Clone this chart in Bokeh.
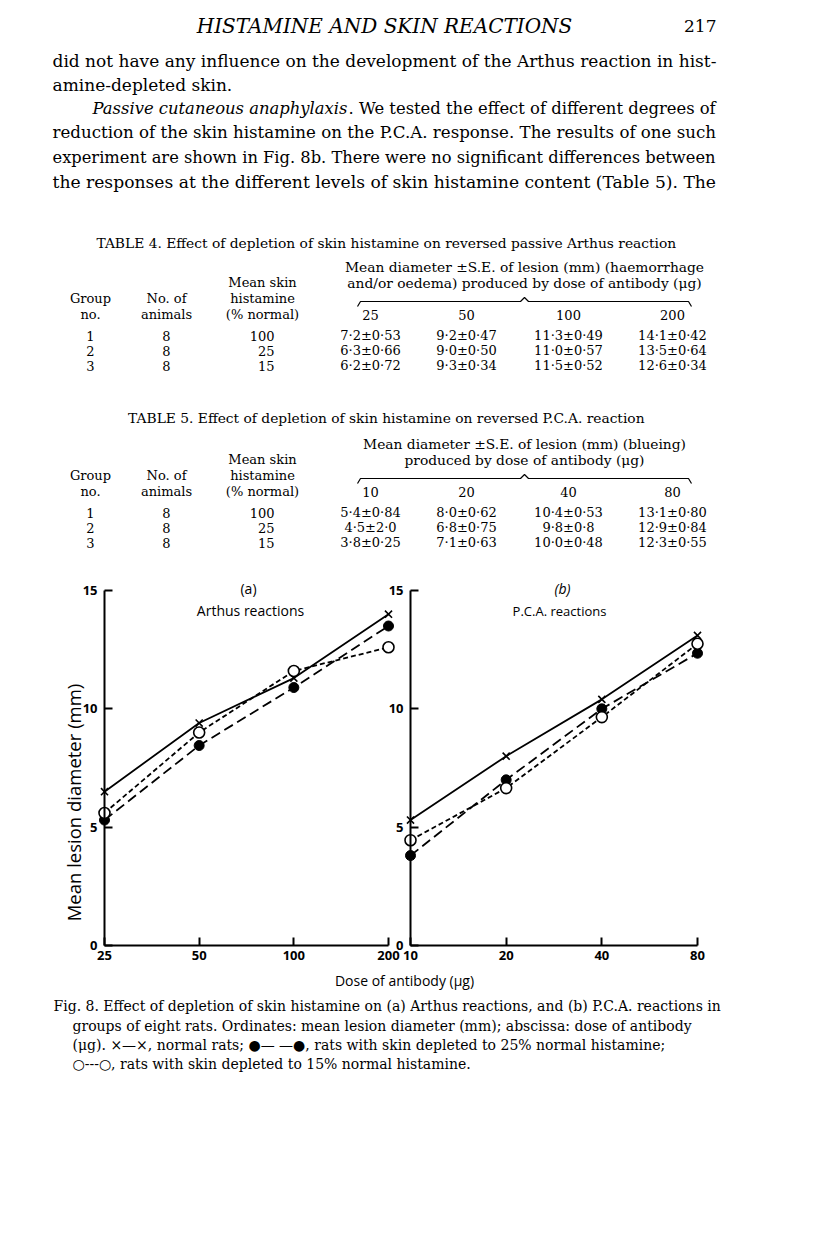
import math
from bokeh.plotting import figure
from bokeh.models import Range1d, LogScale, LogAxis, LinearAxis, FixedTicker, BasicTickFormatter
from bokeh.core.properties import value
from bokeh.embed import file_html
from bokeh.resources import INLINE

# ---------------- data ----------------
arthus_dose = [25, 50, 100, 200]
arthus_normal = [6.5, 9.4, 11.3, 14.0]
arthus_dep25 = [5.3, 8.45, 10.9, 13.5]
arthus_dep15 = [5.6, 9.0, 11.6, 12.6]

pca_dose = [10, 20, 40, 80]
pca_normal = [5.3, 8.0, 10.4, 13.1]
pca_dep25 = [3.8, 7.0, 10.0, 12.35]
pca_dep15 = [4.45, 6.65, 9.65, 12.75]

y_ticks = [0, 5, 10, 15]

# ---------------- table contents ----------------
groups = ["1", "2", "3"]
animals = ["8", "8", "8"]
histamine = ["100", "25", "15"]
table4_doses = ["25", "50", "100", "200"]
table4_rows = [["7·2±0·53", "9·2±0·47", "11·3±0·49", "14·1±0·42"],
               ["6·3±0·66", "9·0±0·50", "11·0±0·57", "13·5±0·64"],
               ["6·2±0·72", "9·3±0·34", "11·5±0·52", "12·6±0·34"]]
table5_doses = ["10", "20", "40", "80"]
table5_rows = [["5·4±0·84", "8·0±0·62", "10·4±0·53", "13·1±0·80"],
               ["4·5±2·0", "6·8±0·75", "9·8±0·8", "12·9±0·84"],
               ["3·8±0·25", "7·1±0·63", "10·0±0·48", "12·3±0·55"]]

body_lines = [
    "did not have any influence on the development of the Arthus reaction in hist-",
    "amine-depleted skin.",
    None,
    "reduction of the skin histamine on the P.C.A. response. The results of one such",
    "experiment are shown in Fig. 8b. There were no significant differences between",
    "the responses at the different levels of skin histamine content (Table 5). The",
]
caption_lines = [
    "Fig. 8.  Effect of depletion of skin histamine on (a) Arthus reactions, and (b) P.C.A. reactions in",
    "groups of eight rats.  Ordinates: mean lesion diameter (mm); abscissa: dose of antibody",
    "(μg).   ×—×, normal rats;  ●— —●, rats with skin depleted to 25% normal histamine;",
    "○---○, rats with skin depleted to 15% normal histamine.",
]

# ---------------- page figure (coordinates = page pixels) ----------------
W, H = 800, 1217
p = figure(width=W, height=H, x_range=Range1d(0, W), y_range=Range1d(H, 0),
           output_backend="svg", toolbar_location=None, min_border=0,
           x_axis_location=None, y_axis_location=None)
p.grid.visible = False
p.outline_line_color = None
p.background_fill_color = "white"
p.border_fill_color = "white"

SERIF = "DejaVu Serif"
SANS = "Open Sans"


def txt(xs, ys, texts, size, align="left", font=SERIF, style="normal", angle=0):
    p.text(x=xs, y=ys, text=texts, text_font=value(font), text_font_size=value(size),
           text_font_style=style, text_align=align, text_baseline="middle",
           text_color="black", angle=angle)


# running head
txt([384], [25], ["HISTAMINE AND SKIN REACTIONS"], "20px", "center", style="italic")
txt([716], [25], ["217"], "17px", "right")

# body text (sizes vary slightly per line to imitate the justified setting)
line_y = [60, 84, 108, 132, 157, 181]
line_size = ["17px", "17px", "16.4px", "16.65px", "16.3px", "17.15px"]
for t, y, s in zip(body_lines, line_y, line_size):
    if t is not None:
        txt([52], [y], [t], s)
txt([92], [line_y[2]], ["Passive cutaneous anaphylaxis"], line_size[2], style="italic")
txt([348], [line_y[2]], [". We tested the effect of different degrees of"], line_size[2])

# tables
col_group, col_anim, col_hist = 90, 166, 274
dose_cols = [370, 466, 568, 672]


def draw_table(title, title_y, head_lines, head_y, doses, rows, row_y):
    txt([388], [title_y], [title], "13.8px", "center")
    txt([524] * len(head_lines), head_y, head_lines, "13.8px", "center")
    hy = head_y[-1]
    txt([262, 262, 262], [hy, hy + 16, hy + 32], ["Mean skin", "histamine", "(% normal)"], "13px", "center")
    txt([col_group, col_group], [hy + 16, hy + 32], ["Group", "no."], "13px", "center")
    txt([col_anim, col_anim], [hy + 16, hy + 32], ["No. of", "animals"], "13px", "center")
    txt(dose_cols, [hy + 32] * 4, doses, "13px", "center")
    # brace over the dose columns
    by_ = hy + 19
    p.line([357, 360, 520, 524, 528, 688, 691], [by_ + 5, by_, by_, by_ - 4, by_, by_, by_ + 5],
           line_color="black", line_width=1.2)
    for r, y in enumerate(row_y):
        txt([col_group], [y], [groups[r]], "13px", "center")
        txt([col_anim], [y], [animals[r]], "13px", "center")
        txt([col_hist], [y], [histamine[r]], "13px", "right")
        txt(dose_cols, [y] * 4, rows[r], "13px", "center")


draw_table("TABLE 4.  Effect of depletion of skin histamine on reversed passive Arthus reaction", 242,
           ["Mean diameter ±S.E. of lesion (mm) (haemorrhage",
            "and/or oedema) produced by dose of antibody (μg)"], [266, 282],
           table4_doses, table4_rows, [335, 350, 365])
draw_table("TABLE 5.  Effect of depletion of skin histamine on reversed P.C.A. reaction", 417,
           ["Mean diameter ±S.E. of lesion (mm) (blueing)",
            "produced by dose of antibody (μg)"], [443, 459],
           table5_doses, table5_rows, [512, 527, 542])

# caption
cap_y = [1005, 1025, 1044, 1063]
txt([53, 72, 72, 72], cap_y, caption_lines, "14px")

# ---------------- chart panels via extra ranges ----------------
def log_range(v0, px0, v1, px1):
    ppd = (px1 - px0) / math.log10(v1 / v0)
    start = v0 * 10 ** (-px0 / ppd)
    end = v1 * 10 ** ((W - px1) / ppd)
    return Range1d(start, end)


unit = (945 - 590) / 15.0
p.extra_y_ranges = {"v": Range1d(-(H - 945) / unit, 15 + 590 / unit)}
p.extra_x_ranges = {"a": log_range(25, 104, 200, 388), "b": log_range(10, 410, 80, 697)}
p.extra_x_scales = {"a": LogScale(), "b": LogScale()}


def style_axis(ax):
    ax.axis_line_color = "black"
    ax.axis_line_width = 2
    ax.major_tick_line_color = "black"
    ax.major_tick_line_width = 2
    ax.major_tick_in = 8
    ax.major_tick_out = 0
    ax.minor_tick_line_color = None
    ax.major_label_text_font = SANS
    ax.major_label_text_font_style = "bold"
    ax.major_label_text_font_size = "13px"
    ax.major_label_text_color = "black"


def panel(rng, doses, normal, dep25, dep15):
    xa = LogAxis(x_range_name=rng, y_range_name="v", fixed_location=0,
                 bounds=(doses[0], doses[-1]), ticker=FixedTicker(ticks=doses, minor_ticks=[]),
                 formatter=BasicTickFormatter())
    xa.major_label_overrides = {d: str(d) for d in doses}
    style_axis(xa)
    xa.major_label_standoff = 5
    p.add_layout(xa, "below")
    ya = LinearAxis(x_range_name=rng, y_range_name="v", fixed_location=doses[0],
                    bounds=(0, 15), ticker=FixedTicker(ticks=y_ticks, minor_ticks=[]))
    style_axis(ya)
    ya.major_label_standoff = 7
    p.add_layout(ya, "left")

    kw = dict(x_range_name=rng, y_range_name="v", line_color="black", line_width=1.8)
    p.line(doses, normal, line_dash="solid", **kw)
    p.line(doses, dep25, line_dash="10 5", **kw)
    p.line(doses, dep15, line_dash="5 3", **kw)
    p.scatter(doses, normal, marker="x", size=10, line_width=1.6, line_color="black",
              x_range_name=rng, y_range_name="v")
    p.scatter(doses, dep25, marker="circle", size=10, fill_color="black", line_color="black",
              x_range_name=rng, y_range_name="v")
    p.scatter(doses, dep15, marker="circle", size=11, fill_color="white", line_color="black",
              line_width=1.6, x_range_name=rng, y_range_name="v")


panel("a", arthus_dose, arthus_normal, arthus_dep25, arthus_dep15)
panel("b", pca_dose, pca_normal, pca_dep25, pca_dep15)

# panel titles and axis titles
txt([248], [588], ["(a)"], "14px", "center", font=SANS)
txt([250], [610], ["Arthus reactions"], "14px", "center", font=SANS)
txt([562], [588], ["(b)"], "14px", "center", font=SANS, style="italic")
txt([559], [610], ["P.C.A. reactions"], "13px", "center", font=SANS)
txt([73], [802], ["Mean lesion diameter (mm)"], "18.5px", "center", font=SANS, angle=math.pi / 2)
txt([404], [980], ["Dose of antibody (μg)"], "14px", "center", font=SANS)

open("out.html", "w").write(file_html(p, INLINE))
